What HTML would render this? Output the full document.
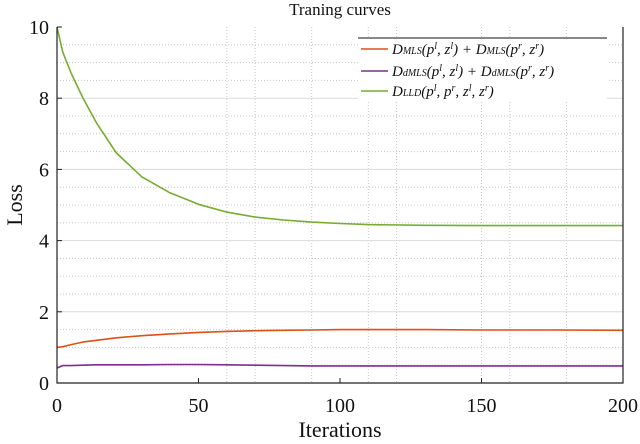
<!DOCTYPE html>
<html><head><meta charset="utf-8"><style>
body{margin:0;background:#fff}
svg text{font-family:"Liberation Serif",serif;fill:#111}
</style></head><body>
<svg width="640" height="439">
<g id="grid"></g>
<g id="series"></g>
<g id="axes"></g>
<text x="340" y="15" text-anchor="middle" font-size="17">Traning curves</text>
<text x="340" y="437" text-anchor="middle" font-size="22">Iterations</text>
<text x="22" y="205" text-anchor="middle" font-size="22" transform="rotate(-90 22 205)">Loss</text>
<g>
<rect x="358" y="38" width="249" height="62" fill="#fff"/>
<line x1="358" y1="38" x2="607" y2="38" stroke="#111" stroke-width="1"/>
<g><line x1="361" y1="49" x2="388" y2="49" stroke="#d95319" stroke-width="1.6"/><text x="392" y="54" font-size="15" font-style="italic">D<tspan font-size="10">MLS</tspan>(p<tspan font-size="10" dy="-5">l</tspan><tspan dy="5">, z</tspan><tspan font-size="10" dy="-5">l</tspan><tspan dy="5">) + D</tspan><tspan font-size="10">MLS</tspan>(p<tspan font-size="10" dy="-5">r</tspan><tspan dy="5">, z</tspan><tspan font-size="10" dy="-5">r</tspan><tspan dy="5">)</tspan></text></g>
<g><line x1="361" y1="71" x2="388" y2="71" stroke="#7e2f8e" stroke-width="1.6"/><text x="392" y="76" font-size="15" font-style="italic">D<tspan font-size="10">dMLS</tspan>(p<tspan font-size="10" dy="-5">l</tspan><tspan dy="5">, z</tspan><tspan font-size="10" dy="-5">l</tspan><tspan dy="5">) + D</tspan><tspan font-size="10">dMLS</tspan>(p<tspan font-size="10" dy="-5">r</tspan><tspan dy="5">, z</tspan><tspan font-size="10" dy="-5">r</tspan><tspan dy="5">)</tspan></text></g>
<g><line x1="361" y1="91" x2="388" y2="91" stroke="#77ac30" stroke-width="1.6"/><text x="392" y="96" font-size="15" font-style="italic">D<tspan font-size="10">LLD</tspan>(p<tspan font-size="10" dy="-5">l</tspan><tspan dy="5">, p</tspan><tspan font-size="10" dy="-5">r</tspan><tspan dy="5">, z</tspan><tspan font-size="10" dy="-5">l</tspan><tspan dy="5">, z</tspan><tspan font-size="10" dy="-5">r</tspan><tspan dy="5">)</tspan></text></g>
</g>
</svg>
<script>
const xTicks=[0,50,100,150,200];
const yTicks=[0,2,4,6,8,10];
const xMinor=[60,70,90,110,120,150,160,180];
const iters=[0,2,5,9,14,21,30,40,50,60,70,80,90,100,110,130,150,175,200];
const lldLoss=[10,9.3,8.7,8.03,7.3,6.46,5.79,5.34,5.02,4.8,4.66,4.58,4.52,4.48,4.45,4.43,4.42,4.42,4.42];
const mlsLoss=[1.0,1.02,1.08,1.15,1.2,1.27,1.33,1.38,1.42,1.45,1.47,1.48,1.49,1.5,1.5,1.5,1.49,1.49,1.48];
const dmlsLoss=[0.42,0.49,0.49,0.5,0.51,0.51,0.51,0.52,0.52,0.51,0.5,0.49,0.48,0.48,0.48,0.48,0.48,0.48,0.48];
const X0=57,X1=623,Y0=383,Y1=27;
const sx=v=>X0+(v-0)/200*(X1-X0), sy=v=>Y0-(v/10)*(Y0-Y1);
const NS="http://www.w3.org/2000/svg";
function mk(p,t,a){const e=document.createElementNS(NS,t);for(const k in a)e.setAttribute(k,a[k]);p.appendChild(e);return e;}
const g=document.getElementById('grid'),s=document.getElementById('series'),ax=document.getElementById('axes');
for(let v=0.5;v<10;v+=0.5){if(v%2===0)continue;
 const l=mk(g,'line',{x1:X0,x2:X1,y1:sy(v),y2:sy(v),stroke:'#c8c8c8','stroke-width':1,'stroke-dasharray':'1,2'});
 
 }
xMinor.forEach(v=>{const l=mk(g,'line',{x1:sx(v),x2:sx(v),y1:Y1,y2:Y0,stroke:'#c8c8c8','stroke-width':1,'stroke-dasharray':'1,2'});
 
 });
yTicks.forEach(v=>{if(v>0&&v<10){const l=mk(g,'line',{x1:X0,x2:X1,y1:sy(v),y2:sy(v),stroke:'#dcdcdc','stroke-width':1});
 
 }
 const t=mk(ax,'text',{x:X0-8,y:sy(v)+7,'text-anchor':'end','font-size':20});t.textContent=v;
 
 
 mk(ax,'line',{x1:X0,x2:X0+5,y1:sy(v),y2:sy(v),stroke:'#222'});});
xTicks.forEach(v=>{const t=mk(ax,'text',{x:sx(v),y:Y0+29,'text-anchor':'middle','font-size':20});t.textContent=v;
 
 
 mk(ax,'line',{x1:sx(v),x2:sx(v),y1:Y0,y2:Y0-5,stroke:'#222'});});
mk(ax,'path',{d:`M${X0},${Y1}V${Y0}H${X1}V${Y1}`,fill:'none',stroke:'#222','stroke-width':1.2});
[[mlsLoss,'#d95319','mls-line'],[dmlsLoss,'#7e2f8e','dmls-line'],[lldLoss,'#77ac30','lld-line']].forEach(([d,c,n])=>{
 const p=mk(s,'path',{d:d.map((v,i)=>(i?'L':'M')+sx(iters[i]).toFixed(1)+','+sy(v).toFixed(1)).join(''),fill:'none',stroke:c,'stroke-width':1.6,'stroke-linejoin':'round'});
 
 });
</script>
</body></html>
